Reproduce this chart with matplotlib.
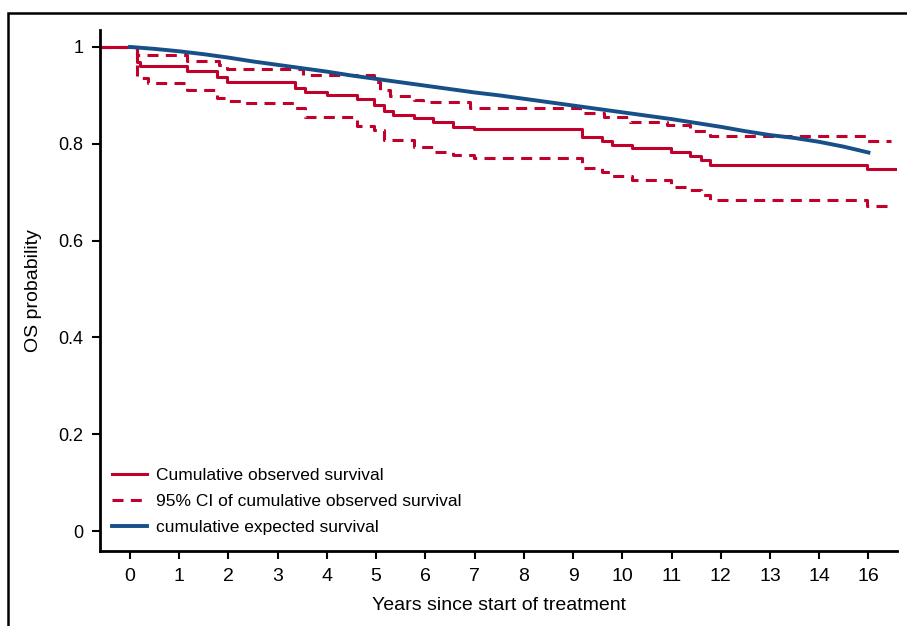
import matplotlib
matplotlib.use("Agg")
import matplotlib.pyplot as plt
from matplotlib.patches import Rectangle

# Kaplan-Meier style step data (x in tick units, last tick labelled "16")
obs_t = [-0.61, 0.14, 0.20, 1.15, 1.76, 1.97, 3.35, 3.56, 4.00, 4.61, 4.95, 5.15, 5.35,
         5.76, 6.16, 6.57, 6.98, 9.18, 9.59, 9.79, 10.20, 10.98, 11.38, 11.59, 11.79,
         14.97, 15.58]
obs_s = [1.0, 0.968, 0.961, 0.951, 0.937, 0.928, 0.916, 0.906, 0.901, 0.892, 0.880,
         0.868, 0.860, 0.854, 0.844, 0.835, 0.830, 0.815, 0.806, 0.798, 0.791, 0.784,
         0.775, 0.766, 0.756, 0.748, 0.748]

upper_t = [-0.61, 0.14, 1.15, 1.80, 1.97, 3.52, 4.95, 5.08, 5.28, 5.76, 5.96, 6.91,
           9.15, 9.62, 10.16, 10.91, 11.38, 11.79, 14.97, 15.45]
upper_s = [1.0, 0.983, 0.972, 0.963, 0.954, 0.942, 0.928, 0.911, 0.899, 0.890, 0.887,
           0.874, 0.863, 0.855, 0.846, 0.839, 0.827, 0.816, 0.806, 0.806]

lower_t = [-0.61, 0.14, 0.37, 1.15, 1.76, 1.97, 2.34, 3.35, 3.56, 4.61, 4.95, 5.15,
           5.76, 6.16, 6.57, 6.98, 9.18, 9.59, 9.79, 10.20, 10.98, 11.38, 11.59, 11.79,
           14.97, 15.45]
lower_s = [1.0, 0.935, 0.925, 0.911, 0.894, 0.888, 0.884, 0.873, 0.856, 0.837, 0.829,
           0.808, 0.794, 0.784, 0.777, 0.770, 0.751, 0.742, 0.733, 0.725, 0.711, 0.705,
           0.694, 0.684, 0.671, 0.671]

exp_t = [0, 0.5, 1, 1.5, 2, 2.5, 3, 3.5, 4, 4.5, 5, 5.5, 6, 6.5, 7, 7.5, 8, 8.5, 9,
         9.5, 10, 10.5, 11, 11.5, 12, 12.5, 13, 13.5, 14, 14.5, 15]
exp_s = [1.0, 0.996, 0.991, 0.985, 0.978, 0.970, 0.963, 0.956, 0.949, 0.941, 0.934,
         0.927, 0.920, 0.913, 0.906, 0.900, 0.893, 0.886, 0.879, 0.872, 0.865, 0.858,
         0.851, 0.843, 0.835, 0.826, 0.818, 0.812, 0.804, 0.794, 0.782]

x_ticks = list(range(16))
x_labels = ["0", "1", "2", "3", "4", "5", "6", "7", "8", "9", "10", "11", "12",
            "13", "14", "16"]
y_ticks = [0, 0.2, 0.4, 0.6, 0.8, 1]
y_labels = ["0", "0.2", "0.4", "0.6", "0.8", "1"]

RED = "#c1002b"
BLUE = "#174f88"
plt.rcParams["font.family"] = ["Liberation Sans", "DejaVu Sans"]

fig = plt.figure(figsize=(9.07, 6.26), dpi=100)
ax = fig.add_axes([100 / 907, 75 / 626, 797 / 907, 521 / 626])

# outer frame of the panel
fig.patches.append(Rectangle((8 / 907, -0.1), 1.2, 1.1 - 13 / 626,
                             transform=fig.transFigure, fill=False,
                             edgecolor="black", linewidth=1.8, zorder=0))

ax.step(obs_t, obs_s, where="post", color=RED, lw=2.2,
        label="Cumulative observed survival")
ax.step(upper_t, upper_s, where="post", color=RED, lw=2.2, dashes=(3.6, 2.4),
        label="95% CI of cumulative observed survival")
ax.step(lower_t, lower_s, where="post", color=RED, lw=2.2, dashes=(3.6, 2.4))
ax.plot(exp_t, exp_s, color=BLUE, lw=2.8, solid_joinstyle="miter",
        label="cumulative expected survival")

ax.set_xlim(-0.61, 15.58)
ax.set_ylim(-0.041, 1.035)
ax.set_xticks(x_ticks)
ax.set_xticklabels(x_labels, fontsize=14)
ax.set_yticks(y_ticks)
ax.set_yticklabels(y_labels, fontsize=13)
ax.tick_params(direction="out", length=6, width=1.5, pad=6)
ax.tick_params(axis="x", pad=6)

for s in ["top", "right"]:
    ax.spines[s].set_visible(False)
for s in ["left", "bottom"]:
    ax.spines[s].set_linewidth(2)

ax.set_xlabel("Years since start of treatment", fontsize=14, labelpad=9)
ax.set_ylabel("OS probability", fontsize=14, labelpad=12)

ax.legend(loc="lower left", frameon=False, fontsize=12.5, handlelength=2.0,
          handletextpad=0.55, labelspacing=0.62, borderaxespad=0.3,
          bbox_to_anchor=(0.0, 0.008))

fig.savefig("out.png", dpi=100)
